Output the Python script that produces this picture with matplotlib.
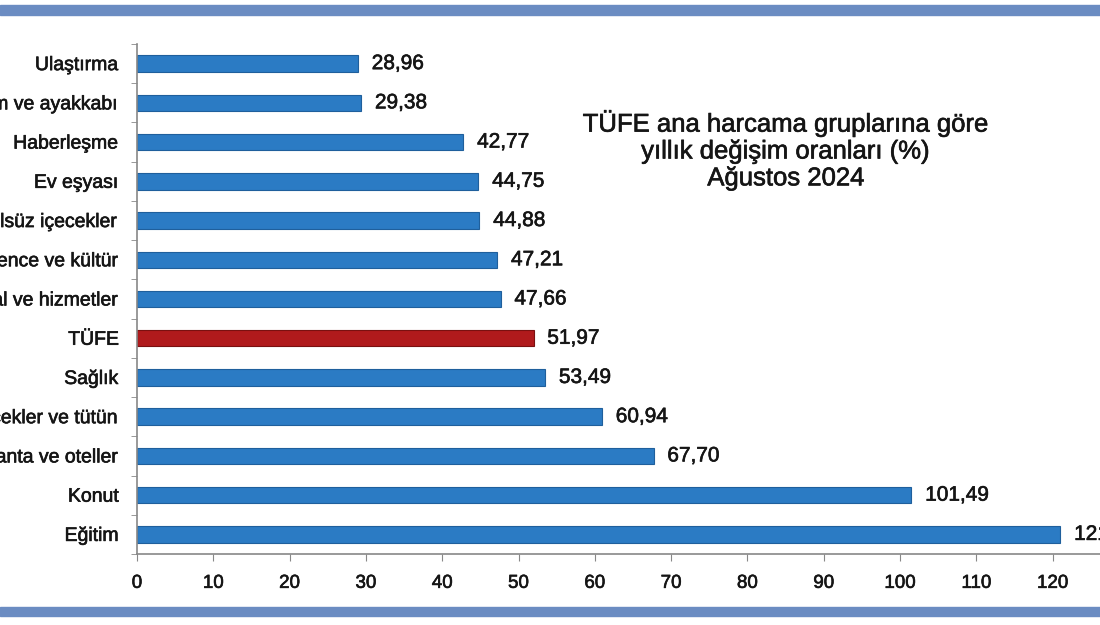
import matplotlib.pyplot as plt
import matplotlib.patheffects as pe
from matplotlib.patches import Rectangle

plt.rcParams['font.family'] = ['Liberation Sans', 'DejaVu Sans']

# categories from top to bottom
groups = ["Ulaştırma", "Giyim ve ayakkabı", "Haberleşme", "Ev eşyası",
          "Gıda ve alkolsüz içecekler", "Eğlence ve kültür",
          "Çeşitli mal ve hizmetler", "TÜFE", "Sağlık",
          "Alkollü içecekler ve tütün", "Lokanta ve oteller", "Konut", "Eğitim"]
values = [28.96, 29.38, 42.77, 44.75, 44.88, 47.21, 47.66, 51.97, 53.49,
          60.94, 67.70, 101.49, 121.01]
xticks = list(range(0, 130, 10))

blue = "#2b7bc4"
red = "#b01a1c"
txt = "#151515"
colors = [red if g == "TÜFE" else blue for g in groups]
edges = ["#7a1010" if g == "TÜFE" else "#1f5f9c" for g in groups]
heavy = [pe.withStroke(linewidth=0.45, foreground=txt)]  # a bit heavier than regular

W, H = 1100, 625
fig = plt.figure(figsize=(W / 100, H / 100), dpi=100)

# axes: x=0 at px 137, x=130 past the right edge; y from 44 to 554
ax = fig.add_axes([137 / W, 1 - 554 / H, (1129 - 137) / W, (554 - 44) / H])
y = list(range(len(groups)))
ax.barh(y, values, height=0.42, color=colors, edgecolor=edges, linewidth=0.8)
ax.set_ylim(len(groups) - 0.5, -0.5)
ax.set_xlim(0, 130)

for yi, v in zip(y, values):
    ax.text(v + 1.8, yi, f"{v:.2f}".replace(".", ","), va="center", ha="left",
            fontsize=15, color=txt, path_effects=heavy)

ax.set_yticks(y)
ax.set_yticklabels(groups, fontsize=14, color=txt)
ax.set_yticks([i + 0.5 for i in range(-1, len(groups))], minor=True)
ax.tick_params(axis="y", which="major", length=0, pad=13)
ax.tick_params(axis="y", which="minor", length=4, color="#888888")
ax.set_xticks(xticks)
ax.set_xticklabels([str(t) for t in xticks], fontsize=13.5, color=txt)
ax.tick_params(axis="x", length=5, color="#888888", pad=10)
for lab in ax.get_yticklabels() + ax.get_xticklabels():
    lab.set_path_effects(heavy)
for s in ["top", "right"]:
    ax.spines[s].set_visible(False)
for s in ["left", "bottom"]:
    ax.spines[s].set_color("#888888")
    ax.spines[s].set_linewidth(1.2)

fig.text(786 / W, 1 - 150 / H, "TÜFE ana harcama gruplarına göre\nyıllık değişim oranları (%)\nAğustos 2024",
         ha="center", va="center", fontsize=18.5, color=txt,
         linespacing=1.15, path_effects=heavy)

# frame bands at top and bottom
for y0, y1 in [(5, 15), (607, 616)]:
    fig.patches.append(Rectangle((0, 1 - y1 / H), 1, (y1 - y0) / H,
                                 transform=fig.transFigure, color="#6b8cc2", zorder=5))

fig.savefig("out.png", dpi=100)
